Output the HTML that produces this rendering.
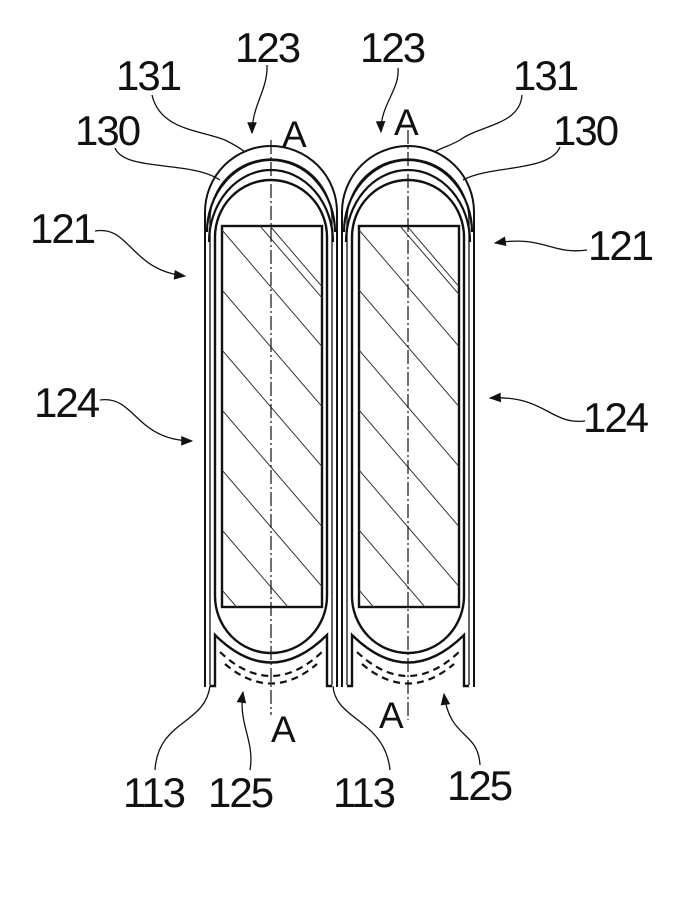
<!DOCTYPE html>
<html><head><meta charset="utf-8"><style>
html,body{margin:0;padding:0;background:#fff}
svg{display:block}
text{font-family:"Liberation Sans",sans-serif;fill:#111;letter-spacing:-2px}
</style></head><body>
<svg width="687" height="912" viewBox="0 0 687 912" xmlns="http://www.w3.org/2000/svg">
<defs>
<clipPath id="c1"><rect x="222" y="226" width="100" height="381"/></clipPath>
<clipPath id="c2"><rect x="359" y="226" width="100" height="381"/></clipPath>
<marker id="ah" viewBox="0 0 10 10" refX="9" refY="5" markerWidth="14" markerHeight="12" orient="auto-start-reverse" markerUnits="userSpaceOnUse"><path d="M0,1 L10,5 L0,9 z" fill="#111"/></marker>
<g id="cell" fill="none" stroke="#111">
  <path d="M205,687 L205,212 A66,66 0 0 1 337,212 L337,687" stroke-width="2"/>
  <path d="M210,685 L210,220 A60,60 0 0 1 332,220 L332,685" stroke-width="1.3"/>
  <path d="M207,232 A64,72 0 0 1 335,232" stroke-width="2.2"/>
  <path d="M209,242 A62,72 0 0 1 333,242" stroke-width="2.2"/>
  <path d="M215,237 A56,57 0 0 1 327,237 L327,596 A56,57 0 0 1 215,596 Z" stroke-width="2.4"/>
  <path d="M210,686 L215,686 L215,635 Q271,690 327,635 L327,686 L332,686" stroke-width="2.4"/>
  <path d="M220,652 Q271,700 322,652" stroke-width="2.2" stroke-dasharray="7,5"/>
  <path d="M225,664 Q271,703 317,664" stroke-width="2.2" stroke-dasharray="7,5"/>
  <rect x="222" y="226" width="100" height="381" stroke-width="2.4"/>
</g>
</defs>
<use href="#cell"/>
<use href="#cell" transform="translate(137,0)"/>
<g stroke="#333" stroke-width="1" clip-path="url(#c1)">
  <path d="M222,230 l120,140 M222,290 l150,175 M222,350 l150,175 M222,410 l150,175 M222,470 l150,175 M222,530 l150,175 M222,590 l150,175 M260,226 l100,116 M222,170 l150,175"/>
</g>
<g stroke="#333" stroke-width="1" clip-path="url(#c2)">
  <path d="M359,230 l120,140 M359,290 l150,175 M359,350 l150,175 M359,410 l150,175 M359,470 l150,175 M359,530 l150,175 M359,590 l150,175 M400,226 l100,116 M359,170 l150,175"/>
</g>
<g stroke="#111" stroke-width="1.2" stroke-dasharray="14,3,2,3">
  <line x1="271" y1="140" x2="271" y2="715"/>
  <line x1="408" y1="130" x2="408" y2="720"/>
</g>
<g fill="none" stroke="#111" stroke-width="1.3">
  <path d="M267,65 C268,90 252,105 252,133" marker-end="url(#ah)"/>
  <path d="M398,68 C400,90 380,105 381,132" marker-end="url(#ah)"/>
  <path d="M152,95 C160,130 200,130 225,140 C235,145 240,148 245,152"/>
  <path d="M522,95 C520,125 480,125 460,140 C450,146 440,148 435,152"/>
  <path d="M115,148 C125,172 190,160 220,180"/>
  <path d="M560,147 C550,172 490,165 463,180"/>
  <path d="M95,231 C130,225 130,270 185,276" marker-end="url(#ah)"/>
  <path d="M587,250 C550,255 545,235 495,243" marker-end="url(#ah)"/>
  <path d="M100,400 C135,395 135,440 192,441" marker-end="url(#ah)"/>
  <path d="M585,421 C550,425 545,395 490,398" marker-end="url(#ah)"/>
  <path d="M155,770 C158,720 205,725 210,686"/>
  <path d="M250,770 C255,740 238,725 243,692" marker-end="url(#ah)"/>
  <path d="M390,770 C385,720 335,720 333,686"/>
  <path d="M480,765 C478,730 450,740 444,694" marker-end="url(#ah)"/>
</g>
<g font-size="42">
  <text x="235" y="62">123</text>
  <text x="360" y="62">123</text>
  <text x="116" y="90">131</text>
  <text x="513" y="90">131</text>
  <text x="75" y="145">130</text>
  <text x="553" y="145">130</text>
  <text x="30" y="243">121</text>
  <text x="588" y="260">121</text>
  <text x="34" y="417">124</text>
  <text x="583" y="432">124</text>
  <text x="123" y="807">113</text>
  <text x="208" y="807">125</text>
  <text x="333" y="807">113</text>
  <text x="447" y="800">125</text>
</g>
<g font-size="37">
  <text x="282" y="147">A</text>
  <text x="394" y="135">A</text>
  <text x="271" y="742">A</text>
  <text x="379" y="728">A</text>
</g>
</svg>
</body></html>
